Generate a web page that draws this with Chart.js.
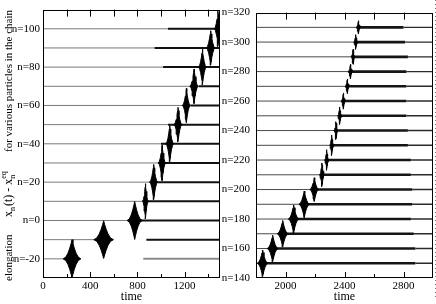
<!DOCTYPE html>
<html>
<head>
<meta charset="utf-8">
<script src="https://cdn.jsdelivr.net/npm/chart.js@4"></script>
<style>
  html, body { margin: 0; padding: 0; background: #fff; }
  #wrap { position: relative; width: 436px; height: 304px; overflow: hidden; }
  #left { position: absolute; left: 0; top: 0; }
  #right { position: absolute; left: 222px; top: 0; }
</style>
</head>
<body>
<div id="wrap">
  <canvas id="left" width="222" height="304"></canvas>
  <canvas id="right" width="214" height="304"></canvas>
</div>
<script>
// left panel, particles n = -20 ... 100
const leftN = [-20, -10, 0, 10, 20, 30, 40, 50, 60, 70, 80, 90, 100];
const leftPulseTime = [246, 514, 777, 868, 938, 1009, 1074, 1144, 1215, 1280, 1351, 1421, 1483];
const leftPulseAmp = [10, 9.8, 9.9, 9.2, 9.2, 9.2, 9.5, 9, 8.9, 9, 9.3, 9, 9.2];
const leftPulseHalfWidth = [75, 83, 64, 25, 35, 32, 34, 34, 34, 36, 34, 38, 32];
const leftNoiseFrom = [850, 876, 820, 888, 972, 1041, 1000, 1060, 1250, 1320, 1018, 946, 1059];
const leftTicksY = [-20, 0, 20, 40, 60, 80, 100];
const leftTicksX = [0, 400, 800, 1200];
const leftTickMarks = [200, 400, 600, 800, 1000, 1200, 1400];

// right panel, particles n = 150 ... 310
const rightN = [150, 160, 170, 180, 190, 200, 210, 220, 230, 240, 250, 260, 270, 280, 290, 300, 310];
const rightPulseTime = [1845, 1913, 1981, 2055, 2127, 2195, 2247, 2279, 2313, 2342, 2367, 2392, 2419, 2440, 2458, 2476, 2494];
const rightPulseAmp = [9, 9, 9, 9.5, 9, 8, 8, 7, 7, 6, 6, 5.5, 5, 5, 5, 5, 4.5];
const rightPulseHalfWidth = [36, 37, 37, 36, 36, 30, 17, 14, 14, 14, 14, 14, 14, 14, 14, 14, 14];
const rightNoiseTo = [2880, 2880, 2870, 2850, 2860, 2860, 2850, 2850, 2830, 2830, 2820, 2820, 2820, 2820, 2830, 2810, 2800];
const rightTicksY = [140, 160, 180, 200, 220, 240, 260, 280, 300, 320];
const rightTicksX = [2000, 2400, 2800];
const rightTickMarks = [2000, 2200, 2400, 2600, 2800];

Chart.defaults.font.family = '"Liberation Serif", "Times New Roman", serif';
Chart.defaults.font.size = 11;
Chart.defaults.color = '#000';

// envelope of one wave packet (shape only)
const envU = [-1, -0.7, -0.45, -0.25, -0.1, 0, 0.1, 0.25, 0.45, 0.7, 1];
const envF = [0, 0.09, 0.3, 0.56, 0.81, 1, 0.81, 0.56, 0.3, 0.09, 0];

function pulseShape(n, t0, a, w) {
    const up = envU.map((u, i) => ({x: t0 + u * w, y: n + envF[i] * a}));
    const down = envU.map((u, i) => ({x: t0 + u * w, y: n - envF[i] * a})).reverse();
    return up.concat(down);
}

function buildDatasets(ns, times, amps, widths, xmin, xmax, noise, isLeft) {
    const sets = [];
    ns.forEach((n, i) => {
        // quiet part of the trace before the packet arrives
        sets.push({
            data: [{x: xmin, y: n}, {x: times[i], y: n}],
            borderColor: isLeft ? '#7a7a7a' : '#4a4a4a',
            borderWidth: 1, order: 2
        });
        if (isLeft) {
            sets.push({
                data: [{x: noise[i], y: n}, {x: xmax, y: n}],
                borderColor: i === 0 ? '#8a8a8a' : '#111',
                borderWidth: 2, order: 1
            });
        } else {
            sets.push({
                data: [{x: times[i], y: n}, {x: noise[i], y: n}],
                borderColor: '#151515', borderWidth: 2.6, order: 1
            });
            sets.push({
                data: [{x: noise[i], y: n}, {x: xmax, y: n}],
                borderColor: '#2a2a2a', borderWidth: 1.4, order: 1
            });
        }
        sets.push({
            data: pulseShape(n, times[i], amps[i], widths[i]),
            borderColor: '#000', backgroundColor: '#000',
            borderWidth: 1, fill: 'shape', order: 0
        });
    });
    return sets;
}

function framePlugin(marks, majors, extra) {
    return {
        id: 'frame',
        afterDraw(chart) {
            const {ctx, chartArea: a, scales: {x}} = chart;
            ctx.save();
            ctx.strokeStyle = '#000';
            ctx.lineWidth = 1;
            ctx.strokeRect(Math.round(a.left) + 0.5, Math.round(a.top) + 0.5,
                Math.round(a.right - a.left) - 1, Math.round(a.bottom - a.top) - 1);
            ctx.beginPath();
            marks.forEach(v => {
                const px = Math.round(x.getPixelForValue(v)) + 0.5;
                const lb = majors.includes(v) ? 6 : 4;
                ctx.moveTo(px, a.bottom);
                ctx.lineTo(px, a.bottom - lb);
                ctx.moveTo(px, a.top);
                ctx.lineTo(px, a.top + 7);
            });
            ctx.stroke();
            if (extra) extra(ctx, a);
            ctx.restore();
        }
    };
}

function makeChart(id, o) {
    return new Chart(document.getElementById(id), {
        type: 'line',
        data: {datasets: o.datasets},
        options: {
            responsive: false,
            animation: false,
            events: [],
            layout: {padding: o.padding},
            plugins: {legend: {display: false}, tooltip: {enabled: false}},
            elements: {point: {radius: 0}, line: {tension: 0}},
            scales: {
                x: {
                    type: 'linear', min: o.xmin, max: o.xmax,
                    afterFit: s => { s.height = 26; },
                    afterBuildTicks: s => { s.ticks = o.xTicks.map(v => ({value: v})); },
                    grid: {display: false, drawTicks: false},
                    border: {display: false},
                    ticks: {padding: 2, maxRotation: 0, autoSkip: false, callback: v => String(v)},
                    title: {display: true, text: 'time', font: {size: 12}, padding: 0}
                },
                y: {
                    type: 'linear', min: o.ymin, max: o.ymax,
                    afterFit: s => { s.width = o.yWidth; },
                    afterBuildTicks: s => { s.ticks = o.yTicks.map(v => ({value: v})); },
                    grid: {display: false, drawTicks: false},
                    border: {display: false},
                    ticks: {padding: o.yPad, autoSkip: false, callback: v => 'n=' + v}
                }
            }
        },
        plugins: o.plugins
    });
}

const yTitle = {
    id: 'ytitle',
    afterDraw(chart) {
        const ctx = chart.ctx;
        const fam = '"Liberation Serif", serif';
        ctx.save();
        ctx.translate(12, 0);
        ctx.rotate(-Math.PI / 2);
        ctx.fillStyle = '#000';
        ctx.textAlign = 'left';
        ctx.textBaseline = 'alphabetic';
        ctx.font = '11px ' + fam;
        ctx.fillText('elongation', -281, 0);
        ctx.fillText('for various particles in the chain', -152, 0);
        // x_n(t)-x_n^eq
        let u = -217;
        const big = '12px ' + fam, small = '8px ' + fam;
        ctx.font = big; ctx.fillText('x', u, 0); u += ctx.measureText('x').width;
        ctx.font = small; ctx.fillText('n', u, 3); u += ctx.measureText('n').width + 1;
        ctx.font = big; ctx.fillText('(t) - x', u, 0); u += ctx.measureText('(t) - x').width;
        ctx.font = small; ctx.fillText('n', u, 3); ctx.fillText('eq', u, -6);
        ctx.restore();
    }
};

makeChart('left', {
    datasets: buildDatasets(leftN, leftPulseTime, leftPulseAmp, leftPulseHalfWidth, 0, 1500, leftNoiseFrom, true),
    padding: {top: 4, right: 2, bottom: 0, left: 0},
    xmin: 0, xmax: 1500, ymin: -30, ymax: 110,
    xTicks: leftTicksX, yTicks: leftTicksY, yWidth: 43, yPad: 3,
    plugins: [framePlugin(leftTickMarks, leftTicksX), yTitle]
});

makeChart('right', {
    datasets: buildDatasets(rightN, rightPulseTime, rightPulseAmp, rightPulseHalfWidth, 1800, 3000, rightNoiseTo, false),
    padding: {top: 4, right: 3, bottom: 0, left: 0},
    xmin: 1800, xmax: 3000, ymin: 140, ymax: 320,
    xTicks: rightTicksX, yTicks: rightTicksY, yWidth: 34, yPad: 6,
    plugins: [framePlugin(rightTickMarks, rightTicksX, (ctx, a) => {
        ctx.strokeStyle = '#777';
        ctx.setLineDash([1, 3]);
        ctx.beginPath();
        ctx.moveTo(a.right + 2.5, 0);
        ctx.lineTo(a.right + 2.5, 300);
        ctx.stroke();
        ctx.setLineDash([]);
    })]
});
</script>
</body>
</html>
